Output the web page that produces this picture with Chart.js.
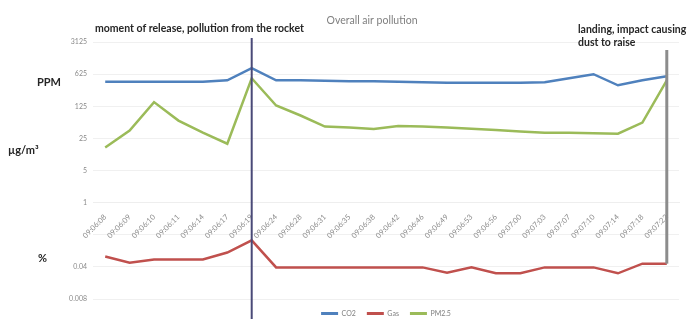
<!DOCTYPE html>
<html>
<head>
<meta charset="utf-8">
<script src="https://cdn.jsdelivr.net/npm/chart.js@4"></script>
<style>
  html, body { margin: 0; padding: 0; background: #fff; }
  #wrap { width: 688px; height: 319px; position: relative; }
</style>
</head>
<body>
<div id="wrap"><canvas id="chart"></canvas></div>
<script>
// time stamps of the measurements
const times = [
  '09:06:08', '09:06:09', '09:06:10', '09:06:11', '09:06:14', '09:06:17',
  '09:06:19', '09:06:24', '09:06:28', '09:06:31', '09:06:35', '09:06:38',
  '09:06:42', '09:06:46', '09:06:49', '09:06:53', '09:06:56', '09:07:00',
  '09:07:03', '09:07:07', '09:07:10', '09:07:14', '09:07:18', '09:07:22'
];

// CO2 in ppm
const co2 = [426, 426, 426, 426, 426, 459, 842, 459, 459, 448, 437, 437,
             426, 415, 405, 405, 405, 405, 415, 508, 622, 357, 459, 562];

// gas in %
const gas = [0.067, 0.049, 0.058, 0.058, 0.058, 0.082, 0.151, 0.039, 0.039, 0.039, 0.039, 0.039,
             0.039, 0.039, 0.030, 0.039, 0.029, 0.029, 0.039, 0.039, 0.039, 0.029, 0.047, 0.047];

// PM2.5 in ug/m3
const pm25 = [15.9, 36.9, 154, 61, 33.3, 19.1, 508, 130, 78.6, 45.1, 42.9, 39.8,
              46.2, 45.1, 42.9, 40.5, 37.8, 35.1, 33.3, 33.3, 32.5, 31.7, 55.2, 459];

// log axis ticks (base 5)
const yTicks = [0.008, 0.04, 0.2, 1, 5, 25, 125, 625, 3125];

const releaseIndex = 6;
const landingIndex = 23;

const colors = {
    co2: '#4f81bd',
    gas: '#c0504d',
    pm: '#9bbb59',
    text: '#262626',
    muted: '#7f7f7f',
    grid: '#f0f0f0'
};

const FONT = "Lato, 'Open Sans', sans-serif";

// vertical marker lines and free text
const notesPlugin = {
    id: 'notes',
    afterDatasetsDraw(chart) {
        const { ctx, chartArea, scales } = chart;
        const x = scales.x, y = scales.y;
        ctx.save();

        // release marker
        const xr = x.getPixelForValue(releaseIndex);
        ctx.strokeStyle = '#4a4a78';
        ctx.lineWidth = 2;
        ctx.beginPath();
        ctx.moveTo(xr, chartArea.top - 4);
        ctx.lineTo(xr, chart.height);
        ctx.stroke();

        // landing marker
        const xl = x.getPixelForValue(landingIndex);
        ctx.strokeStyle = '#8c8c8c';
        ctx.lineWidth = 3;
        ctx.beginPath();
        ctx.moveTo(xl, chartArea.top + 8);
        ctx.lineTo(xl, y.getPixelForValue(gas[landingIndex]));
        ctx.stroke();

        ctx.textBaseline = 'middle';
        ctx.textAlign = 'center';
        ctx.fillStyle = colors.muted;
        ctx.font = '10.5px ' + FONT;
        ctx.fillText('Overall air pollution', 372, 21);

        ctx.textAlign = 'left';
        ctx.fillStyle = colors.text;
        ctx.font = 'bold 10.5px ' + FONT;
        ctx.fillText('moment of release, pollution from the rocket', 95, 29);
        ctx.fillText('landing, impact causing', 578, 30);
        ctx.fillText('dust to raise', 578, 43);

        ctx.font = 'bold 11px ' + FONT;
        ctx.fillText('PPM', 37, 82);
        ctx.fillText('µg/m³', 8, 150);
        ctx.fillText('%', 38, 258);
        ctx.restore();
    }
};

function series(label, data, color) {
    return {
        label: label,
        data: data,
        borderColor: color,
        backgroundColor: color,
        borderWidth: 2.5,
        pointBorderColor: color,
        pointBorderWidth: 3
    };
}

new Chart(document.getElementById('chart'), {
    type: 'line',
    data: {
        labels: times,
        datasets: [
            series('CO2', co2, colors.co2),
            series('Gas', gas, colors.gas),
            series('PM2.5', pm25, colors.pm)
        ]
    },
    options: {
        responsive: true,
        maintainAspectRatio: false,
        animation: false,
        layout: { padding: { left: 0, right: 9, top: 42, bottom: -8 } },
        elements: {
            line: { tension: 0 },
            point: { radius: 0 }
        },
        plugins: {
            legend: {
                position: 'bottom',
                fullSize: false,
                labels: {
                    usePointStyle: true,
                    pointStyle: 'line',
                    pointStyleWidth: 17,
                    boxHeight: 6,
                    padding: 11,
                    color: colors.muted,
                    font: { size: 7, family: FONT }
                }
            },
            tooltip: { enabled: false }
        },
        scales: {
            x: {
                type: 'category',
                position: { y: 1 },
                offset: true,
                grid: { display: false, drawTicks: false },
                border: { color: '#eeeeee' },
                ticks: {
                    autoSkip: false,
                    maxRotation: 45,
                    minRotation: 45,
                    padding: 10,
                    color: '#8a8a8a',
                    font: { size: 7.5, family: FONT }
                }
            },
            y: {
                type: 'logarithmic',
                min: 0.008,
                max: 3125,
                afterBuildTicks(scale) {
                    scale.ticks = yTicks.map(v => ({ value: v }));
                },
                afterFit(scale) {
                    scale.width = 93;
                },
                grid: { color: colors.grid, drawTicks: false },
                border: { display: false },
                ticks: {
                    padding: 6,
                    color: '#8a8a8a',
                    font: { size: 7, family: FONT },
                    callback: function (value) {
                        if (value === 0.2) return '';
                        return String(value);
                    }
                }
            }
        }
    },
    plugins: [notesPlugin]
});
</script>
</body>
</html>
